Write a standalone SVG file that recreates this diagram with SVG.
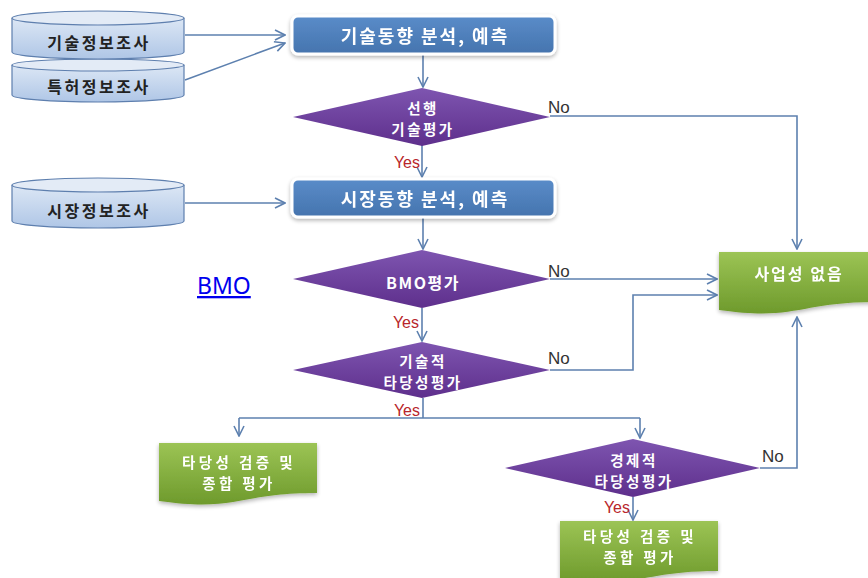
<svg xmlns="http://www.w3.org/2000/svg" width="868" height="578" viewBox="0 0 868 578">
<style>
.conn{fill:none;stroke:#5D80AF;stroke-width:1.6}
.kr{font-family:"Noto Sans CJK KR","Noto Sans",sans-serif;font-weight:bold;dominant-baseline:central;text-anchor:middle}
.cyl text{fill:#222;font-size:16px;letter-spacing:2.5px}
.box text{fill:#fff;font-size:18px;letter-spacing:2px}
.dia text{fill:#fff;font-size:16px;letter-spacing:1.5px}
.dia text.two{font-size:14.5px;letter-spacing:2.5px}
.doc text{fill:#fff;font-size:16px;letter-spacing:2px}
.doc text.two{font-size:14.5px;letter-spacing:3.4px}
.no{font-family:"Liberation Sans",Arial,sans-serif;font-size:17px;fill:#333}
.yes{font-family:"Liberation Sans",Arial,sans-serif;font-size:16px;fill:#B8262B;text-anchor:end}
.cylshape{fill:url(#gCyl);stroke:#5E7FAE;stroke-width:1.2}
.cyltop{fill:#E3EBF6;stroke:#5E7FAE;stroke-width:1.2}
.boxshape{fill:url(#gBox);stroke:#fff;stroke-width:3}
.diashape{fill:url(#gDia)}
.docshape{fill:url(#gDoc)}
</style>
<defs>
<linearGradient id="gCyl" x1="0" y1="0" x2="0" y2="1"><stop offset="0" stop-color="#DCE7F5"/><stop offset="1" stop-color="#AFC6E6"/></linearGradient>
<linearGradient id="gBox" x1="0" y1="0" x2="0" y2="1"><stop offset="0" stop-color="#5A8CC9"/><stop offset="1" stop-color="#4574AE"/></linearGradient>
<linearGradient id="gDia" x1="0" y1="0" x2="0" y2="1"><stop offset="0" stop-color="#7E55B0"/><stop offset="1" stop-color="#5E2F8C"/></linearGradient>
<linearGradient id="gDoc" x1="0" y1="0" x2="0" y2="1"><stop offset="0" stop-color="#9CC455"/><stop offset="1" stop-color="#6E9A2C"/></linearGradient>
<filter id="sh" x="-10%" y="-20%" width="120%" height="150%"><feGaussianBlur in="SourceAlpha" stdDeviation="2"/><feOffset dx="0" dy="2" result="b"/><feComponentTransfer><feFuncA type="linear" slope="0.3"/></feComponentTransfer><feMerge><feMergeNode/><feMergeNode in="SourceGraphic"/></feMerge></filter>
<marker id="arr" markerUnits="userSpaceOnUse" markerWidth="12" markerHeight="12" viewBox="0 0 12 12" refX="11" refY="6" orient="auto"><path d="M1,1 L11,6 L1,11" fill="none" stroke="#5D80AF" stroke-width="1.6"/></marker>
<path id="docp" d="M0,0 H158 V50 C79,50 79,69 0,58 Z"/>
</defs>

<g id="connectors">
<path class="conn" d="M185,35 H285" marker-end="url(#arr)"/>
<path class="conn" d="M185,80 L285,43" marker-end="url(#arr)"/>
<path class="conn" d="M185,203 H285" marker-end="url(#arr)"/>
<path class="conn" d="M423,55 V87" marker-end="url(#arr)"/>
<path class="conn" d="M422,145 V177" marker-end="url(#arr)"/>
<path class="conn" d="M550,116 H797 V249" marker-end="url(#arr)"/>
<path class="conn" d="M423,217 V249" marker-end="url(#arr)"/>
<path class="conn" d="M422,308 V341" marker-end="url(#arr)"/>
<path class="conn" d="M550,279 H717" marker-end="url(#arr)"/>
<path class="conn" d="M550,370 H633 V295 H717" marker-end="url(#arr)"/>
<path class="conn" d="M423,398 V418"/>
<path class="conn" d="M239,418 H640"/>
<path class="conn" d="M239,418 V436" marker-end="url(#arr)"/>
<path class="conn" d="M640,418 V438" marker-end="url(#arr)"/>
<path class="conn" d="M633,497 V520" marker-end="url(#arr)"/>
<path class="conn" d="M760,468 H797 V317" marker-end="url(#arr)"/>
<text class="no" x="548" y="113">No</text>
<text class="no" x="548" y="277">No</text>
<text class="no" x="548" y="364">No</text>
<text class="no" x="762" y="462">No</text>
<text class="yes" x="420" y="168">Yes</text>
<text class="yes" x="419" y="328">Yes</text>
<text class="yes" x="420" y="416">Yes</text>
<text class="yes" x="630" y="513">Yes</text>
</g>

<g id="cyl2" class="cyl">
<path class="cylshape" d="M12,65 V95 A86,7 0 0 0 184,95 V65"/>
<ellipse class="cyltop" cx="98" cy="65" rx="86" ry="6"/>
<text class="kr" x="99" y="86">특허정보조사</text>
</g>
<g id="cyl1" class="cyl">
<path class="cylshape" d="M12,18 V52 A86,7 0 0 0 184,52 V18"/>
<ellipse class="cyltop" cx="98" cy="18" rx="86" ry="7"/>
<text class="kr" x="99" y="42">기술정보조사</text>
</g>
<g id="cyl3" class="cyl">
<path class="cylshape" d="M12,185 V221 A86,7 0 0 0 184,221 V185"/>
<ellipse class="cyltop" cx="98" cy="185" rx="86" ry="7"/>
<text class="kr" x="99" y="210">시장정보조사</text>
</g>

<g id="box1" class="box" filter="url(#sh)">
<rect class="boxshape" x="292" y="16" width="263" height="38" rx="6"/>
<text class="kr" x="425" y="35">기술동향 분석, 예측</text>
</g>
<g id="dia1" class="dia">
<polygon class="diashape" points="422,88 550,117 422,146 293,117"/>
<text class="kr two" x="423" y="107">선행</text>
<text class="kr two" x="423" y="128">기술평가</text>
</g>
<g id="box2" class="box" filter="url(#sh)">
<rect class="boxshape" x="292" y="179" width="263" height="38" rx="6"/>
<text class="kr" x="425" y="198">시장동향 분석, 예측</text>
</g>
<g id="dia2" class="dia">
<polygon class="diashape" points="422,250 550,279 422,308 293,279"/>
<text class="kr" x="423" y="282">BMO평가</text>
</g>
<g id="dia3" class="dia">
<polygon class="diashape" points="422,342 550,370 422,398 293,370"/>
<text class="kr two" x="423" y="360">기술적</text>
<text class="kr two" x="423" y="381">타당성평가</text>
</g>
<g id="dia4" class="dia">
<polygon class="diashape" points="633,439 760,468 633,497 505,468"/>
<text class="kr two" x="634" y="459">경제적</text>
<text class="kr two" x="634" y="480">타당성평가</text>
</g>
<g id="doc1" class="doc" filter="url(#sh)">
<use href="#docp" class="docshape" transform="translate(159,443)"/>
<text class="kr two" x="239" y="461">타당성 검증 및</text>
<text class="kr two" x="239" y="482">종합 평가</text>
</g>
<g id="doc2" class="doc" filter="url(#sh)">
<use href="#docp" class="docshape" transform="translate(560,521)"/>
<text class="kr two" x="640" y="535">타당성 검증 및</text>
<text class="kr two" x="640" y="556">종합 평가</text>
</g>
<g id="doc3" class="doc" filter="url(#sh)">
<use href="#docp" class="docshape" transform="translate(719,252)"/>
<text class="kr" x="799" y="273">사업성 없음</text>
</g>

<g id="bmo-link">
<text x="197" y="294" font-family="'Noto Sans','Open Sans',sans-serif" font-size="23" fill="#0000EE" text-decoration="underline">BMO</text>
</g>
</svg>
